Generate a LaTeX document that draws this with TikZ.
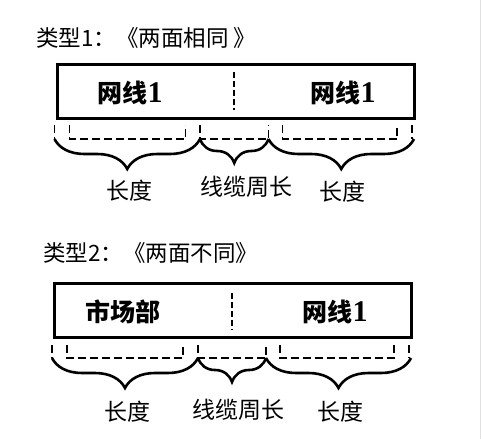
\documentclass[tikz,border=0pt]{standalone}
\usepackage{fontspec}
\setmainfont{Liberation Serif}
\newfontfamily\cjk{Noto Sans CJK SC}
\usetikzlibrary{decorations.pathreplacing}

\newcommand{\wireone}{网线{\rmfamily\fontsize{30}{30}\selectfont 1}}

\tikzset{
  panel/.style={draw,line width=2.8pt,minimum width=357pt,minimum height=54pt,anchor=north west,inner sep=0pt},
  divider/.style={line width=2.2pt,dash pattern=on 6pt off 3pt},
  tickline/.style={line width=1.8pt,dash pattern=on 8pt off 4pt},
  bigbrace/.style={line width=2.6pt,decorate,decoration={brace,mirror,amplitude=30pt}},
  smallbrace/.style={line width=2.6pt,decorate,decoration={brace,mirror,amplitude=24pt}},
  titletext/.style={anchor=west,inner sep=0pt,font=\cjk\fontsize{22.5}{22.5}\selectfont},
  boxtext/.style={font=\cjk\bfseries\fontsize{25}{25}\selectfont},
  lentext/.style={font=\cjk\fontsize{23}{23}\selectfont}
}

\begin{document}
\begin{tikzpicture}[x=1pt,y=-1pt,line join=miter]
    \useasboundingbox (0,0) rectangle (481,439);
    \draw[black!12] (480,0) -- (480,439);

%% type 1
    \node[titletext] (titleA) at (36,38) {类型1：《两面相同 》};
    \begin{scope}[shift={(56,63)}]
    \node[panel] (panelA) at (0,0) {};
    \coordinate (divTopA) at (178,9);
    \coordinate (divBotA) at (178,47);
    \draw[divider] (divTopA) -- (divBotA);
    \node[boxtext] (faceLA) at (74,30) {\wireone};
    \node[boxtext] (faceRA) at (287,30) {\wireone};

    \foreach \x in {-1.5,356} \draw[tickline] (\x,62) -- (\x,76);
    \draw[tickline] (13.5,62) -- (13.5,76) -- (129.5,76) -- (129.5,62);
    \draw[tickline] (144,62) -- (144,76) -- (212.5,76) -- (212.5,62);
    \draw[tickline] (226.5,62) -- (226.5,76) -- (341,76) -- (341,62);

    \coordinate (endA0) at (-1.5,76);
    \coordinate (endA1) at (144,76);
    \coordinate (endA2) at (212.5,76);
    \coordinate (endA3) at (358,76);
    \draw[bigbrace] (endA0) -- (endA1);
    \draw[smallbrace] (endA1) -- (endA2);
    \draw[bigbrace] (endA2) -- (endA3);

    \node[lentext] (lenLA) at (73,128) {长度};
    \node[lentext] (cableA) at (190,124) {线缆周长};
    \node[lentext] (lenRA) at (286,129) {长度};
    \end{scope}

%% type 2
    \node[titletext] (titleB) at (43,253) {类型2：《两面不同》};
    \begin{scope}[shift={(53,282)}]
    \node[panel] (panelB) at (0,0) {};
    \coordinate (divTopB) at (179,11);
    \coordinate (divBotB) at (179,48);
    \draw[divider] (divTopB) -- (divBotB);
    \node[boxtext] (faceLB) at (70,30) {市场部};
    \node[boxtext] (faceRB) at (282,30) {\wireone};

    \foreach \x in {-1,356} \draw[tickline] (\x,63) -- (\x,76);
    \draw[tickline] (14,63) -- (14,76) -- (130,76) -- (130,63);
    \draw[tickline] (145,63) -- (145,76) -- (213,76) -- (213,63);
    \draw[tickline] (227,63) -- (227,76) -- (341,76) -- (341,63);

    \coordinate (endB0) at (-1,76);
    \coordinate (endB1) at (145,76);
    \coordinate (endB2) at (213,76);
    \coordinate (endB3) at (358,76);
    \draw[bigbrace] (endB0) -- (endB1);
    \draw[smallbrace] (endB1) -- (endB2);
    \draw[bigbrace] (endB2) -- (endB3);

    \node[lentext] (lenLB) at (74,130) {长度};
    \node[lentext] (cableB) at (185,128) {线缆周长};
    \node[lentext] (lenRB) at (287,130) {长度};
    \end{scope}

\end{tikzpicture}
\end{document}
